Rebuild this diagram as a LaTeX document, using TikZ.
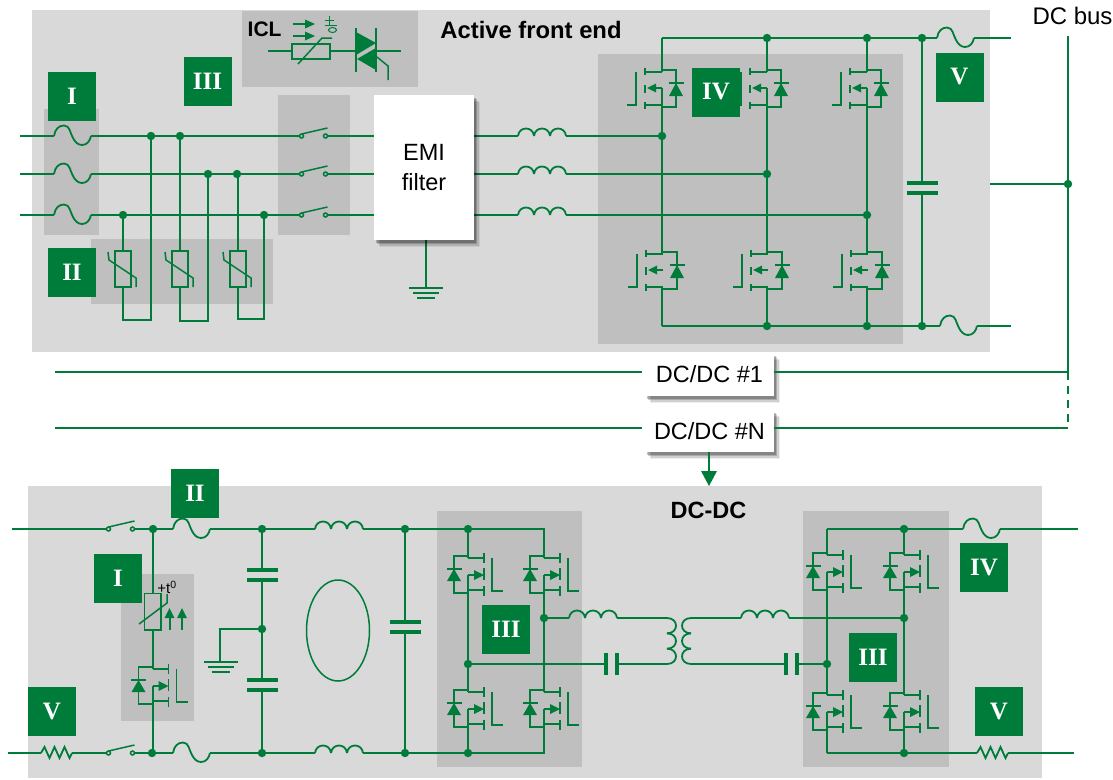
\documentclass[tikz,border=0pt]{standalone}
\usepackage{fontspec}
\setmainfont{Liberation Sans}
\newfontfamily\romanfont{Liberation Serif}
\usetikzlibrary{shadows}

\definecolor{vgreen}{HTML}{007C3A}
\definecolor{panelgray}{HTML}{D9D9D9}
\definecolor{zonegray}{HTML}{BFBFBF}

\tikzset{
  wire/.style={color=vgreen,line width=1.8pt},
  thinwire/.style={color=vgreen,line width=1.5pt},
  plate/.style={color=vgreen,line width=3.6pt},
  badge/.style={fill=vgreen,text=white,minimum width=48pt,minimum height=49pt,inner sep=0pt,
    font=\romanfont\bfseries\fontsize{25}{28}\selectfont},
  softshadow/.style={
    drop shadow={shadow xshift=5.5pt,shadow yshift=-7pt,fill=black,opacity=.07},
    drop shadow={shadow xshift=4.5pt,shadow yshift=-5.5pt,fill=black,opacity=.12},
    drop shadow={shadow xshift=3.2pt,shadow yshift=-4pt,fill=black,opacity=.18},
    drop shadow={shadow xshift=2pt,shadow yshift=-2.5pt,fill=black,opacity=.22}},
  whitebox/.style={fill=white,align=center,inner sep=0pt,softshadow,
    font=\fontsize{23.5}{30}\selectfont},
  dot/.pic={\fill[vgreen] (0,0) circle (4.2pt);},
  fuse/.pic={\draw[wire] (0,0) .. controls (1,-7) and (5,-10.5) .. (10,-10.5) .. controls (16,-10.5) and (16,-3) .. (19,2) .. controls (21,6) and (24,9) .. (28,9) .. controls (33,9) and (36,5) .. (37,0);},
  inductor/.pic={\foreach \i in {0,16,32} \draw[wire] (\i,0) .. controls (\i+1,-10) and (\i+15,-10) .. (\i+16,0);},
  resistor/.pic={\draw[wire] (0,0) -- (3.5,-6) -- (8.5,5) -- (13.5,-6) -- (18.5,5) -- (23.5,-6) -- (28.5,5) -- (31,0);},
  switchopen/.pic={
    \draw[thinwire] (0,0) circle (2pt);
    \draw[thinwire] (24,0) circle (2pt);
    \draw[thinwire] (0,-2) -- (26,-8);},
  caph/.pic={
    \draw[plate] (-15.5,-5) -- (15.5,-5);
    \draw[plate] (-15.5,5) -- (15.5,5);},
  capv/.pic={
    \draw[plate] (-5.5,-11) -- (-5.5,11);
    \draw[plate] (5.5,-11) -- (5.5,11);},
  gnd/.pic={
    \draw[thinwire] (-17,0) -- (17,0);
    \draw[thinwire] (-13,5) -- (13,5);
    \draw[thinwire] (-9,10) -- (9,10);},
  varistor/.pic={
    \draw[thinwire] (-8,-18) rectangle (8,18);
    \draw[thinwire] (-15,-17) -- (-14,-9) -- (13,9) -- (13,18);},
  % front end fet, gate left
  afet/.pic={
    \draw[thinwire] (0,-16) -- (-17,-16) (0,17) -- (-17,17) (0,0) -- (-9,0);
    \draw[thinwire] (-17,-20) -- (-17,-13) (-17,-3) -- (-17,5) (-17,14) -- (-17,21);
    \fill[vgreen] (-15,0) -- (-6,-4.5) -- (-6,4.5) -- cycle;
    \draw[thinwire] (0,-18) -- (14,-18) -- (14,19) -- (0,19);
    \draw[thinwire] (6.5,-5) -- (21.5,-5);
    \fill[vgreen] (14,-5) -- (21,8) -- (7,8) -- cycle;
    \draw[thinwire] (-26,-16) -- (-26,17) -- (-35,17);},
  % dc-dc fet, gate right
  dfet/.pic={
    \draw[thinwire] (0,-17) -- (16,-17) (0,15) -- (16,15) (0,0) -- (8,0);
    \draw[thinwire] (16,-22) -- (16,-12) (16,-7) -- (16,5) (16,11) -- (16,21);
    \fill[vgreen] (16,0) -- (6,-5) -- (6,5) -- cycle;
    \draw[thinwire] (0,-19) -- (-14,-19) -- (-14,18) -- (0,18);
    \draw[thinwire] (-21.5,-6) -- (-6.5,-6);
    \fill[vgreen] (-14,-6) -- (-7,6) -- (-21,6) -- cycle;
    \draw[thinwire] (24,-17) -- (24,16) -- (35,16);},
}

\begin{document}
\begin{tikzpicture}[x=1pt,y=-1pt]
\useasboundingbox (0,0) rectangle (1113,779);

\fill[panelgray] (32,10) rectangle (990,352);
\fill[panelgray] (28,486) rectangle (1042,778);

\fill[zonegray] (242,11) rectangle (418,87);
\fill[zonegray] (44,109) rectangle (99,235);
\fill[zonegray] (91,239) rectangle (273,304);
\fill[zonegray] (278,95) rectangle (350,235);
\fill[zonegray] (598,54) rectangle (903,344);
\fill[zonegray] (121,574) rectangle (194,721);
\fill[zonegray] (437,511) rectangle (582,767);
\fill[zonegray] (803,511) rectangle (949,767);

%%% active front end
\foreach \y in {136,174,215} {
  \draw[wire] (20,\y) -- (54,\y);
  \pic at (54,\y) {fuse};
  \draw[wire] (91,\y) -- (299.5,\y);
  \pic at (301.5,\y) {switchopen};
  \draw[wire] (327.5,\y) -- (374,\y);
  \draw[wire] (474,\y) -- (518,\y);
  \pic at (518,\y) {inductor};
}
\draw[wire] (566,136) -- (662,136);
\draw[wire] (566,174) -- (767,174);
\draw[wire] (566,215) -- (867,215);

\foreach \x/\y in {151/136,180/136,208/174,237/174,123/215,264/215,662/136,767/174,867/215,767/38,867/38,922/38,767/326,867/326,922/326}
  \pic at (\x,\y) {dot};

% varistors
\pic at (123,269) {varistor};
\pic at (180,269) {varistor};
\pic at (238,269) {varistor};
\draw[wire] (123,215) -- (123,251);
\draw[wire] (123,287) -- (123,320) -- (151,320) -- (151,136);
\draw[wire] (180,136) -- (180,251);
\draw[wire] (180,287) -- (180,321) -- (208,321) -- (208,174);
\draw[wire] (238,174) -- (238,251);
\draw[wire] (238,287) -- (238,319) -- (264,319) -- (264,215);

\coordinate (emignd) at (426,288);
\draw[wire] (426,240) -- (emignd);
\node[whitebox,minimum width=100pt,minimum height=145pt] (emi) at (424,167.5) {\raisebox{-1pt}{EMI}\\\raisebox{-1pt}{filter}};
\pic at (emignd) {gnd};

% icl
\node[font=\bfseries\fontsize{21}{24}\selectfont,anchor=west,inner sep=0pt] (icl) at (247.5,29) {ICL};
\draw[color=vgreen,line width=2pt] (293,24) -- (308,24);
\draw[color=vgreen,line width=2pt] (293,36) -- (308,36);
\fill[vgreen] (315,24) -- (305,19.5) -- (305,28.5) -- cycle;
\fill[vgreen] (315,36) -- (305,31.5) -- (305,40.5) -- cycle;
\draw[color=vgreen,line width=1pt] (325,20) -- (334,20) (329.5,15.5) -- (329.5,24.5) (325,25) -- (337,25);
\draw[color=vgreen,line width=1pt] (332.5,30) ellipse (4pt and 2.5pt);
\draw[thinwire] (268,51) -- (292,51);
\draw[thinwire] (292,44) rectangle (330,59);
\draw[thinwire] (298,64) -- (322,38) -- (332,38);
\draw[thinwire] (330,51) -- (356,51);
\draw[thinwire] (376,51) -- (401,51);
\fill[vgreen] (356,32) -- (376,43) -- (356,55) -- cycle;
\fill[vgreen] (357,59) -- (376,48) -- (376,70) -- cycle;
\draw[thinwire] (356,28) -- (356,72);
\draw[thinwire] (376,28) -- (376,72);
\draw[thinwire] (377,57) -- (388,66) -- (388,80);

% bridge
\foreach \x in {662,767,867} {
  \pic at (\x,88) {afet};
  \pic at (\x+1,270) {afet};
  \draw[wire] (\x,38) -- (\x,72);
  \draw[wire] (\x,88) -- (\x,254);
  \draw[wire] (\x,287) -- (\x,326);
}
\draw[wire] (662,38) -- (937,38);
\draw[wire] (662,326) -- (940,326);
\draw[wire] (922,38) -- (922,183);
\draw[wire] (922,193) -- (922,326);
\pic at (922,188) {caph};
\pic at (937,38) {fuse};
\pic at (940,326) {fuse};
\draw[wire] (974,38) -- (1011,38);
\draw[wire] (977,326) -- (1011,326);

%%% dc bus
\node[font=\fontsize{24}{26}\selectfont,inner sep=0pt] (dcbus) at (1072.5,16) {DC bus};
\coordinate (busin) at (990,184);
\coordinate (buspt) at (1068,184);
\coordinate (bus1) at (1068,372);
\coordinate (busn) at (1068,428);
\node[whitebox,minimum width=129pt,minimum height=43pt] (dc1) at (709.5,374.5) {DC/DC \#1};
\node[whitebox,minimum width=129pt,minimum height=42pt] (dcn) at (709.5,431) {DC/DC \#N};
\coordinate (dc1in) at (55,372);
\coordinate (dcnin) at (55,428);
\draw[wire] (busin) -- (buspt);
\draw[wire] (1068,36) -- (bus1);
\draw[wire,dash pattern=on 8pt off 6pt] (bus1) -- (busn);
\pic at (buspt) {dot};
\draw[wire] (dc1in) -- (642,372);
\draw[wire] (dc1.east |- bus1) -- (bus1);
\draw[wire] (dcnin) -- (642,428);
\draw[wire] (dcn.east |- busn) -- (busn);
\coordinate (dcdctop) at (709,486);
\draw[color=vgreen,line width=2.4pt] (dcn.south -| dcdctop) -- (709,474);
\fill[vgreen] (dcdctop) -- (701,471) -- (717,471) -- cycle;

%%% dc-dc stage
\draw[wire] (12,529) -- (106.5,529);
\pic at (108.5,529) {switchopen};
\draw[wire] (134.5,529) -- (173,529);
\pic at (173,529) {fuse};
\draw[wire] (210,529) -- (315,529);
\pic at (315,529) {inductor};
\draw[wire] (363,529) -- (544,529) -- (544,558);

\draw[wire] (8,753) -- (41,753);
\pic at (41,753) {resistor};
\draw[wire] (72,753) -- (106.5,753);
\pic at (108.5,753) {switchopen};
\draw[wire] (134.5,753) -- (173,753);
\pic at (173,753) {fuse};
\draw[wire] (210,753) -- (315,753);
\pic at (315,753) {inductor};
\draw[wire] (363,753) -- (544,753) -- (544,724);

\foreach \x/\y in {153/529,262/529,405/529,468/529,152/753,262/753,405/753,468/753,262/629,544/618,468/664,827/664,904/618,904/529,904/753}
  \pic at (\x,\y) {dot};

% thermistor leg
\draw[wire] (153,529) -- (153,593);
\draw[thinwire] (144.5,593.5) rectangle (161,630);
\draw[thinwire] (139,624) -- (167,603) -- (167,594);
\node[font=\fontsize{15}{16}\selectfont,inner sep=0pt] (tzero) at (167,587) {+t\textsuperscript{0}};
\draw[color=vgreen,line width=2pt] (169.5,630) -- (169.5,615);
\draw[color=vgreen,line width=2pt] (182,630) -- (182,615);
\fill[vgreen] (169.5,608) -- (164.5,618) -- (174.5,618) -- cycle;
\fill[vgreen] (182,608) -- (177,618) -- (187,618) -- cycle;
\draw[wire] (153,630) -- (153,669);
\pic at (152.5,686) {dfet};
\draw[wire] (153,686) -- (153,753);

% filter
\draw[wire] (262,529) -- (262,570);
\pic at (262,575) {caph};
\draw[wire] (262,580) -- (262,680);
\pic at (262,685) {caph};
\draw[wire] (262,690) -- (262,753);
\draw[thinwire] (262,629) -- (220,629) -- (220,662);
\pic at (220.5,662) {gnd};
\draw[thinwire] (338,630.5) ellipse (31.5pt and 50.5pt);
\draw[wire] (405,529) -- (405,622);
\pic at (405,627) {caph};
\draw[wire] (405,632) -- (405,753);

% left bridge
\foreach \x in {468,544} {
  \pic at (\x,575) {dfet};
  \pic at (\x,709) {dfet};
  \draw[wire] (\x,575) -- (\x,692);
  \draw[wire] (\x,709) -- (\x,724);
}
\draw[wire] (468,529) -- (468,558);
\draw[wire] (468,724) -- (468,753);
\draw[wire] (544,618) -- (569,618);
\pic at (569,618) {inductor};
\draw[wire] (617,618) -- (667,618);
\draw[wire] (468,664) -- (606,664);
\pic at (611.5,664) {capv};
\draw[wire] (617,664) -- (667,664);

% transformer
\foreach \i in {0,1,2} {
  \draw[wire] (667,618+15.33*\i) .. controls (679,618+15.33*\i) and (679,633.33+15.33*\i) .. (667,633.33+15.33*\i);
  \draw[wire] (691,618+15.33*\i) .. controls (679,618+15.33*\i) and (679,633.33+15.33*\i) .. (691,633.33+15.33*\i);
}

% right bridge
\draw[wire] (691,618) -- (741,618);
\pic at (741,618) {inductor};
\draw[wire] (789,618) -- (904,618);
\draw[wire] (691,664) -- (786,664);
\pic at (791.5,664) {capv};
\draw[wire] (797,664) -- (827,664);
\foreach \x in {827,904} {
  \pic at (\x,572) {dfet};
  \pic at (\x,712) {dfet};
  \draw[wire] (\x,529) -- (\x,555);
  \draw[wire] (\x,572) -- (\x,695);
  \draw[wire] (\x,712) -- (\x,753);
}
\draw[wire] (827,529) -- (963,529);
\pic at (963,529) {fuse};
\draw[wire] (1000,529) -- (1078,529);
\draw[wire] (827,753) -- (977,753);
\pic at (977,753) {resistor};
\draw[wire] (1008,753) -- (1074,753);

%%% labels
\node[font=\bfseries\fontsize{23.8}{26}\selectfont,inner sep=0pt] (afe) at (531,30) {Active front end};
\node[font=\bfseries\fontsize{23.5}{26}\selectfont,inner sep=0pt] (dcdc) at (708.5,510) {DC-DC};

\node[badge] (a1) at (72,96) {I};
\node[badge] (a2) at (72,272) {II};
\node[badge] (a3) at (207.5,81) {III};
\node[badge] (a4) at (716,92) {IV};
\node[badge] (a5) at (959.5,77) {V};
\node[badge] (d2) at (195,493) {II};
\node[badge] (d1) at (118,578) {I};
\node[badge] (d5) at (52,711) {V};
\node[badge] (d3) at (506,629) {III};
\node[badge] (d3b) at (873,657) {III};
\node[badge] (d4) at (984,567) {IV};
\node[badge] (d5b) at (999,711) {V};

\end{tikzpicture}
\end{document}
